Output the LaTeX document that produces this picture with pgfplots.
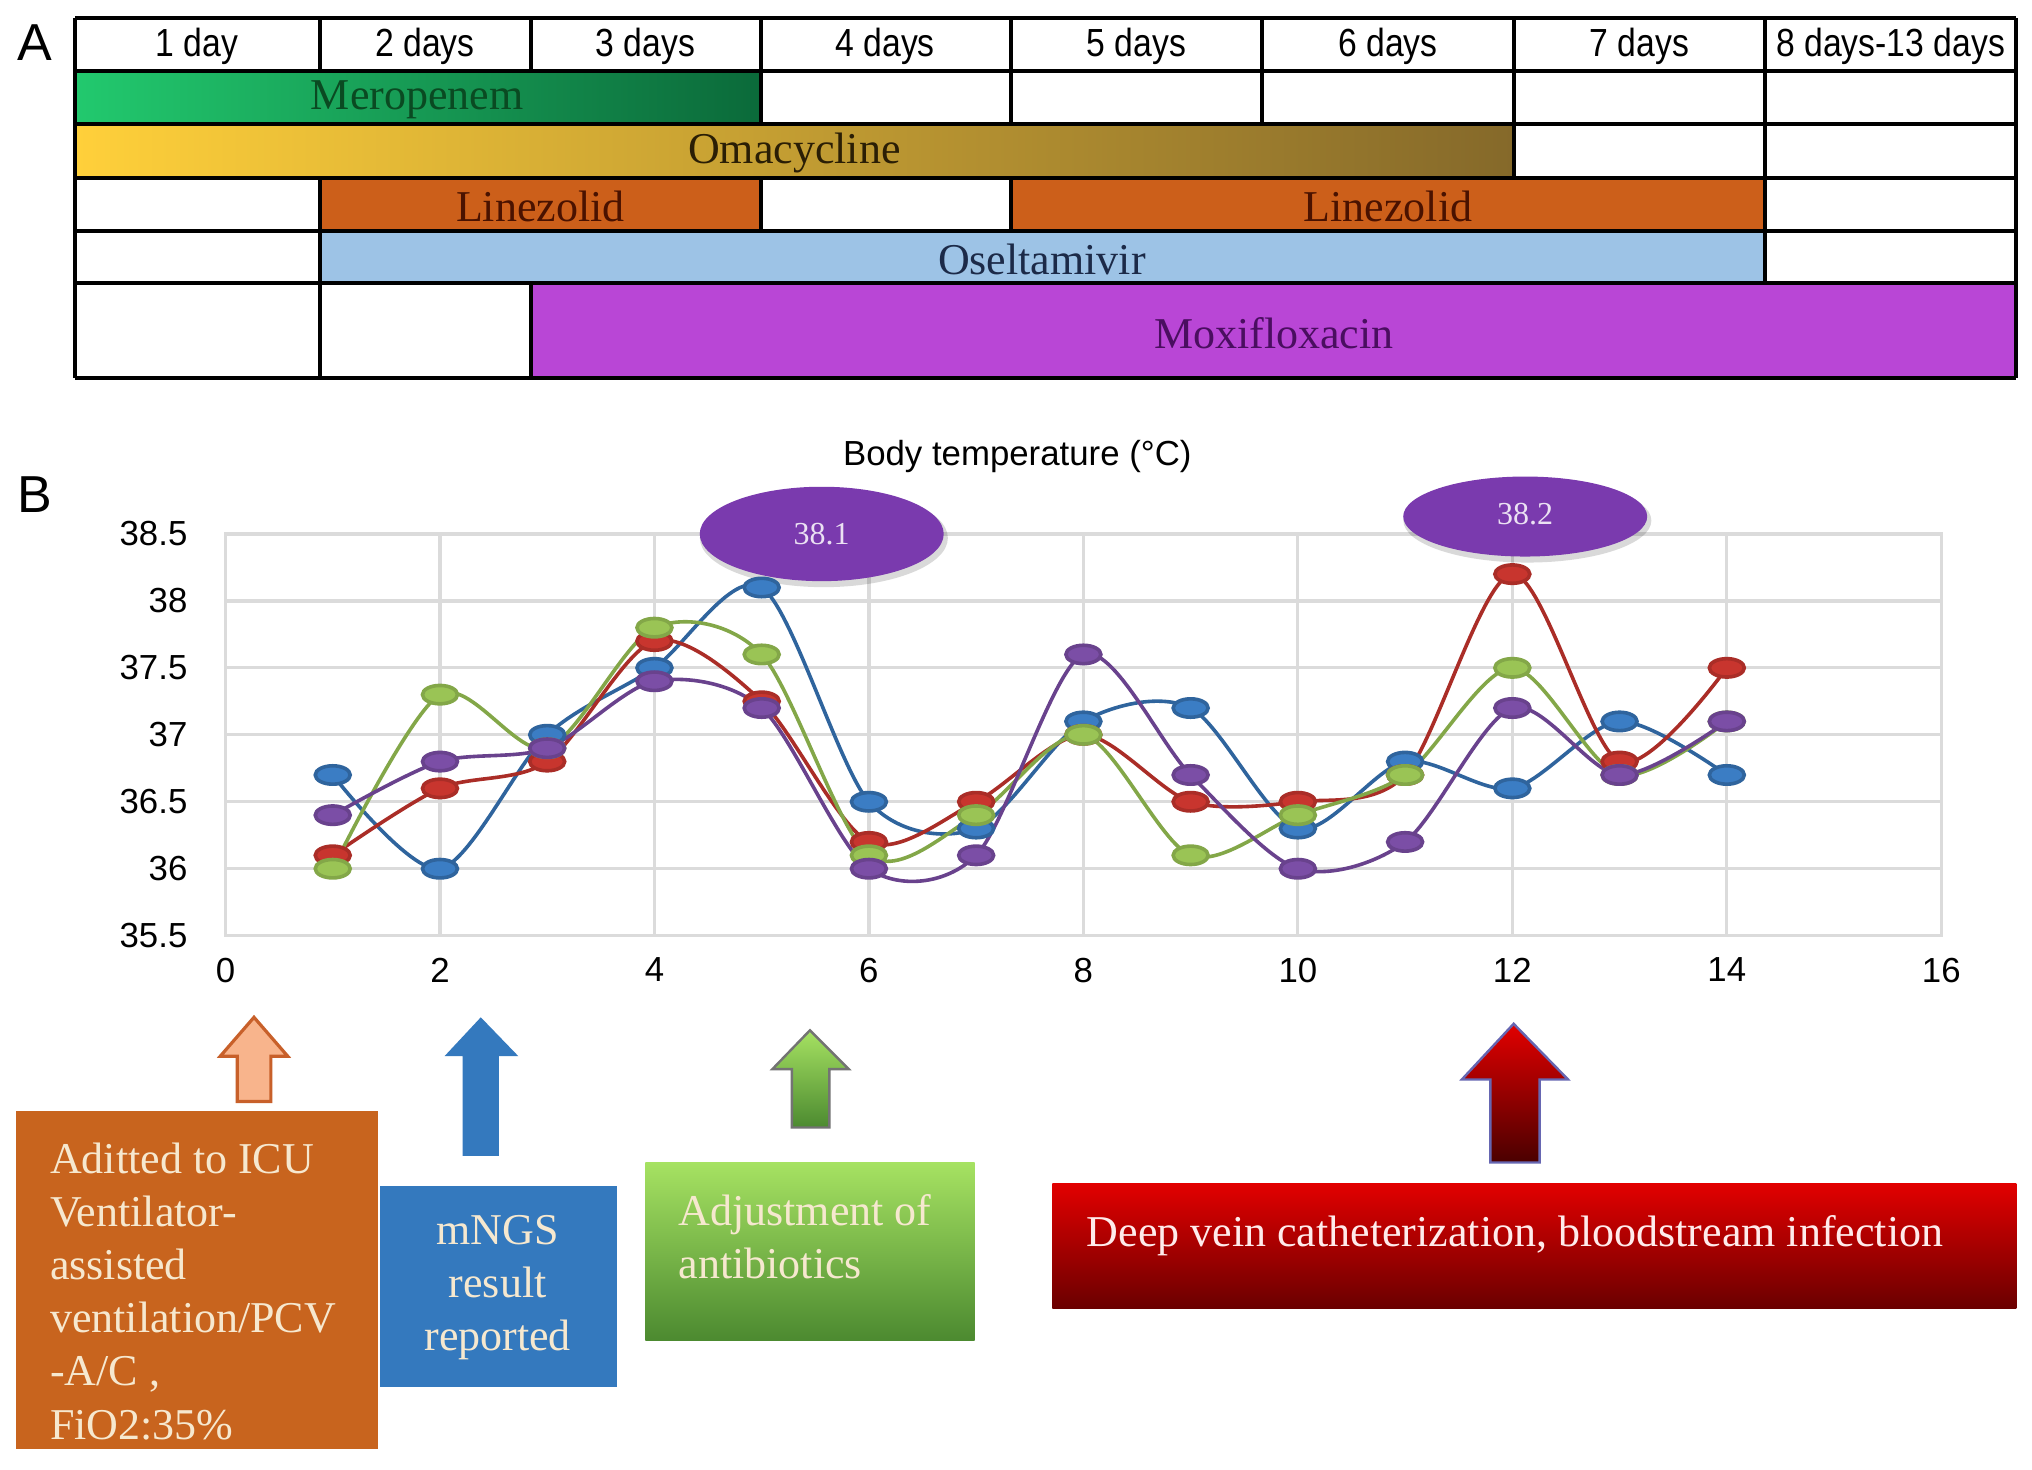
\documentclass[border=0pt]{standalone}
\usepackage{pgfplots}
\pgfplotsset{compat=1.18}
\usepackage{fontspec}
\setmainfont{Liberation Serif}
\setsansfont{Liberation Sans}
\newfontfamily\hdrfont[FakeStretch=0.86]{Liberation Sans}

\definecolor{merL}{HTML}{22C96E}
\definecolor{merR}{HTML}{0B6A3A}
\definecolor{merT}{HTML}{0A4A22}
\definecolor{omaL}{HTML}{FFD03A}
\definecolor{omaR}{HTML}{85692A}
\definecolor{omaT}{HTML}{2A1E05}
\definecolor{linC}{HTML}{CC5F1A}
\definecolor{linT}{HTML}{4A1200}
\definecolor{oseC}{HTML}{9DC3E6}
\definecolor{oseT}{HTML}{1C2A48}
\definecolor{moxC}{HTML}{B946D6}
\definecolor{moxT}{HTML}{4A0E60}

\definecolor{sBlue}{HTML}{3B7DC4}
\definecolor{sRed}{HTML}{C8352E}
\definecolor{sGreen}{HTML}{9AC455}
\definecolor{sPurp}{HTML}{7B4EA6}
\definecolor{ellC}{HTML}{7A3AAE}

\definecolor{peach}{HTML}{F8B48C}
\definecolor{orBorder}{HTML}{C8602A}
\definecolor{orBox}{HTML}{C8641E}
\definecolor{cream}{HTML}{F6E8CF}
\definecolor{blBox}{HTML}{3479BE}
\definecolor{grTop}{HTML}{A6E262}
\definecolor{grBot}{HTML}{4C8A30}
\definecolor{rdTop}{HTML}{E20000}
\definecolor{rdBot}{HTML}{6A0000}

\pgfplotstableread{
x blue red green purple
1 36.7 36.1 36.0 36.4
2 36.0 36.6 37.3 36.8
3 37.0 36.8 36.9 36.9
4 37.5 37.7 37.8 37.4
5 38.1 37.25 37.6 37.2
6 36.5 36.2 36.1 36.0
7 36.3 36.5 36.4 36.1
8 37.1 37.0 37.0 37.6
9 37.2 36.5 36.1 36.7
10 36.3 36.5 36.4 36.0
11 36.8 36.7 36.7 36.2
12 36.6 38.2 37.5 37.2
13 37.1 36.8 36.7 36.7
14 36.7 37.5 37.1 37.1
}\temps

\begin{document}
\begin{tikzpicture}[x=0.324pt,y=-0.324pt]
\useasboundingbox (0,0) rectangle (1568,1134);
\fill[white] (0,0) rectangle (1568,1134);
\coordinate (pA) at (58,292);
\coordinate (pB) at (174,722);

% ---------------- Panel A ----------------
\begin{axis}[at={(pA)},anchor=south west,scale only axis,
  width=485.35pt,height=90.07pt,xmin=58,xmax=1556,ymin=14,ymax=292,
  y dir=reverse,hide axis,clip=false]
 \shade[left color=merL,right color=merR] (axis cs:58,55) rectangle (axis cs:587,96);
 \shade[left color=omaL,right color=omaR] (axis cs:58,96) rectangle (axis cs:1168,137);
 \fill[linC] (axis cs:247,137) rectangle (axis cs:587,178);
 \fill[linC] (axis cs:780,137) rectangle (axis cs:1362,178);
 \fill[oseC] (axis cs:247,178) rectangle (axis cs:1362,218);
 \fill[moxC] (axis cs:410,218) rectangle (axis cs:1556,292);
 % horizontal lines
 \draw[line width=1pt] (axis cs:58,14) -- (axis cs:1556,14);
 \draw[line width=1pt] (axis cs:58,55) -- (axis cs:1556,55);
 \draw[line width=1pt] (axis cs:58,96) -- (axis cs:1556,96);
 \draw[line width=1pt] (axis cs:58,137) -- (axis cs:1556,137);
 \draw[line width=1pt] (axis cs:58,178) -- (axis cs:1556,178);
 \draw[line width=1pt] (axis cs:58,218) -- (axis cs:1556,218);
 \draw[line width=1pt] (axis cs:58,292) -- (axis cs:1556,292);
 % header verticals
 \draw[line width=1pt] (axis cs:58,14) -- (axis cs:58,292);
 \draw[line width=1pt] (axis cs:1556,14) -- (axis cs:1556,292);
 \draw[line width=1pt] (axis cs:247,14) -- (axis cs:247,55);
 \draw[line width=1pt] (axis cs:410,14) -- (axis cs:410,55);
 \draw[line width=1pt] (axis cs:587,14) -- (axis cs:587,55);
 \draw[line width=1pt] (axis cs:780,14) -- (axis cs:780,55);
 \draw[line width=1pt] (axis cs:974,14) -- (axis cs:974,55);
 \draw[line width=1pt] (axis cs:1168,14) -- (axis cs:1168,55);
 \draw[line width=1pt] (axis cs:1362,14) -- (axis cs:1362,55);
 % row 1
 \draw[line width=1pt] (axis cs:587,55) -- (axis cs:587,96);
 \draw[line width=1pt] (axis cs:780,55) -- (axis cs:780,96);
 \draw[line width=1pt] (axis cs:974,55) -- (axis cs:974,96);
 \draw[line width=1pt] (axis cs:1168,55) -- (axis cs:1168,96);
 \draw[line width=1pt] (axis cs:1362,55) -- (axis cs:1362,96);
 % row 2
 \draw[line width=1pt] (axis cs:1168,96) -- (axis cs:1168,137);
 \draw[line width=1pt] (axis cs:1362,96) -- (axis cs:1362,137);
 % row 3
 \draw[line width=1pt] (axis cs:247,137) -- (axis cs:247,178);
 \draw[line width=1pt] (axis cs:587,137) -- (axis cs:587,178);
 \draw[line width=1pt] (axis cs:780,137) -- (axis cs:780,178);
 \draw[line width=1pt] (axis cs:1362,137) -- (axis cs:1362,178);
 % row 4
 \draw[line width=1pt] (axis cs:247,178) -- (axis cs:247,218);
 \draw[line width=1pt] (axis cs:1362,178) -- (axis cs:1362,218);
 % row 5
 \draw[line width=1pt] (axis cs:247,218) -- (axis cs:247,292);
 \draw[line width=1pt] (axis cs:410,218) -- (axis cs:410,292);
 % header text
 \begin{scope}[every node/.style={font=\hdrfont\fontsize{9.8}{11}\selectfont}]
 \node at (axis cs:152,36) {1 day};
 \node at (axis cs:328,36) {2 days};
 \node at (axis cs:498,36) {3 days};
 \node at (axis cs:683,36) {4 days};
 \node at (axis cs:877,36) {5 days};
 \node at (axis cs:1071,36) {6 days};
 \node at (axis cs:1265,36) {7 days};
 \node at (axis cs:1459,36) {8 days-13 days};
 \end{scope}
 \begin{scope}[every node/.style={font=\fontsize{11}{13}\selectfont}]
 \node[text=merT] at (axis cs:322,77) {Meropenem};
 \node[text=omaT] at (axis cs:613,118) {Omacycline};
 \node[text=linT] at (axis cs:417,159) {Linezolid};
 \node[text=linT] at (axis cs:1071,159) {Linezolid};
 \node[text=oseT] at (axis cs:804,200) {Oseltamivir};
 \node[text=moxT] at (axis cs:983,257) {Moxifloxacin};
 \end{scope}
\end{axis}

\node[font=\sffamily\fontsize{13}{15}\selectfont] at (27,33) {A};
\node[font=\sffamily\fontsize{13}{15}\selectfont] at (27,382) {B};
\node[font=\sffamily\fontsize{8.7}{10}\selectfont] at (785,352) {Body temperature (°C)};

% ---------------- Panel B ----------------
\begin{axis}[at={(pB)},anchor=south west,scale only axis,
  width=428.98pt,height=100.44pt,
  xmin=0,xmax=16,ymin=35.5,ymax=38.5,
  xtick={0,2,...,16},ytick={35.5,36,36.5,37,37.5,38,38.5},
  grid=major,major grid style={draw=black!14,line width=0.8pt},
  axis line style={draw=black!14,line width=0.8pt},
  tick style={draw=none},
  /pgf/number format/assume math mode=true,
  ticklabel style={font=\sffamily\fontsize{8.7}{10}\selectfont},
  yticklabel style={xshift=-6pt},
  xticklabel style={yshift=-2pt},
  clip=false,
  every axis plot/.append style={smooth,line width=0.9pt,mark=*,mark size=2.3pt},
]
\addplot[draw=sBlue!80!black,mark options={fill=sBlue,draw=none,xscale=1.9}] table[x=x,y=blue] {\temps};
\addplot[draw=sRed!85!black,mark options={fill=sRed,draw=none,xscale=1.9}] table[x=x,y=red] {\temps};
\addplot[draw=sGreen!85!black,mark options={fill=sGreen,draw=none,xscale=1.9}] table[x=x,y=green] {\temps};
\addplot[draw=sPurp!85!black,mark options={fill=sPurp,draw=none,xscale=1.9}] table[x=x,y=purple] {\temps};

\fill[black,opacity=0.15] (axis cs:5.58,38.47) ellipse [x radius=31pt,y radius=12.3pt];
\fill[ellC] (axis cs:5.56,38.5) ellipse [x radius=30.5pt,y radius=11.8pt];
\node[text=white!85!ellC,font=\fontsize{8}{9}\selectfont] at (axis cs:5.56,38.5) {38.1};
\fill[black,opacity=0.15] (axis cs:12.14,38.6) ellipse [x radius=31pt,y radius=10.5pt];
\fill[ellC] (axis cs:12.12,38.63) ellipse [x radius=30.5pt,y radius=10pt];
\node[text=white!85!ellC,font=\fontsize{8}{9}\selectfont] at (axis cs:12.12,38.65) {38.2};
\end{axis}

% ---------------- Annotations ----------------
\draw[fill=peach,draw=orBorder,line width=0.8pt] (183,850) -- (183,815) -- (170,815) -- (196,785) -- (222,815) -- (209,815) -- (209,850) -- cycle;
\fill[blBox] (357,892) -- (357,815) -- (343,815) -- (371,785) -- (400,815) -- (385,815) -- (385,892) -- cycle;
\shadedraw[top color=grTop,bottom color=grBot,draw=black!55,line width=0.6pt] (611,870) -- (611,825) -- (596,825) -- (625,795) -- (655,825) -- (640,825) -- (640,870) -- cycle;
\shadedraw[top color=rdTop,bottom color=rdBot!70!black,draw=black!50!blue!60,line width=0.6pt] (1150,897) -- (1150,833) -- (1128,833) -- (1168,790) -- (1210,833) -- (1188,833) -- (1188,897) -- cycle;

\fill[orBox] (12,857) rectangle (292,1118);
\node[anchor=north west,align=left,text=cream,inner sep=0pt,font=\fontsize{11}{13.3}\selectfont] at (38,881)
 {Aditted to ICU\\Ventilator-\\assisted\\ventilation/PCV\\-A/C ,\\FiO2:35\%};

\fill[blBox] (293,915) rectangle (476,1070);
\node[anchor=north,align=center,text=cream,inner sep=0pt,font=\fontsize{11}{13.3}\selectfont] at (384,937)
 {mNGS\\result\\reported};

\shade[top color=grTop,bottom color=grBot] (498,897) rectangle (752,1034);
\node[anchor=north west,align=left,text=cream,inner sep=0pt,font=\fontsize{11}{13.3}\selectfont] at (523,921)
 {Adjustment of\\antibiotics};

\shade[top color=rdTop,bottom color=rdBot] (812,913) rectangle (1556,1010);
\node[anchor=north west,align=left,text=white!92!red,inner sep=0pt,font=\fontsize{11}{13.3}\selectfont] at (838,937)
 {Deep vein catheterization, bloodstream infection};

\end{tikzpicture}
\end{document}
